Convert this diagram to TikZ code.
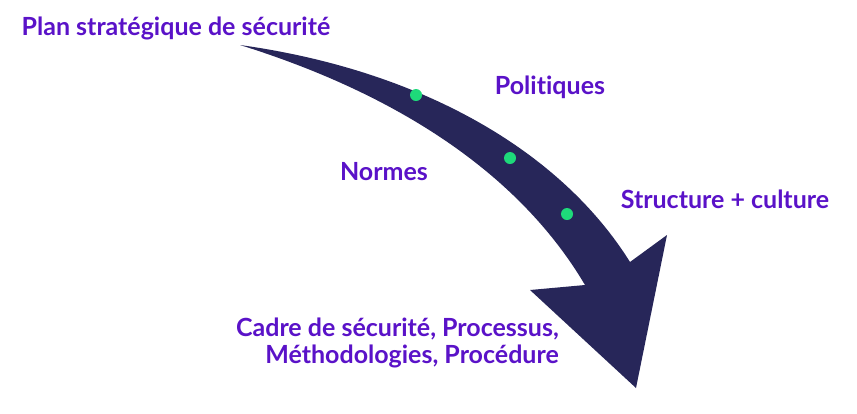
\documentclass[tikz,border=0pt]{standalone}
\usepackage{fontspec}
\setmainfont{Lato}[Ligatures=NoCommon]
\definecolor{navy}{HTML}{272659}
\definecolor{violet}{HTML}{5A12C8}
\definecolor{mint}{HTML}{1ED97A}
\tikzset{
  lbl/.style={text=violet, font=\bfseries\fontsize{25}{30}\selectfont, inner sep=0pt},
  dot/.style={fill=mint, draw=none}
}
\begin{document}
\begin{tikzpicture}[x=1pt,y=-1pt]
    \useasboundingbox (0,0) rectangle (857,413);
    \fill[navy] (240,45) .. controls (420,70) and (560,150) .. (630,262)
      -- (667,235) -- (636,388) -- (530,290) -- (585,285)
      .. controls (520,175) and (400,95) .. (240,45);
    \fill[dot] (416,95) circle (6);
    \fill[dot] (510,158) circle (6);
    \fill[dot] (567,214) circle (6);
    \node[lbl] (plan) at (176,28) {Plan stratégique de sécurité};
    \node[lbl] (pol) at (550,87) {Politiques};
    \node[lbl] (norm) at (384,172) {Normes};
    \node[lbl] (struct) at (725,199) {Structure + culture};
    \node[lbl, align=right, anchor=east] (cadre) at (559,343)
      {Cadre de sécurité, Processus,\\[-3pt]Méthodologies, Procédure};
\end{tikzpicture}
\end{document}
